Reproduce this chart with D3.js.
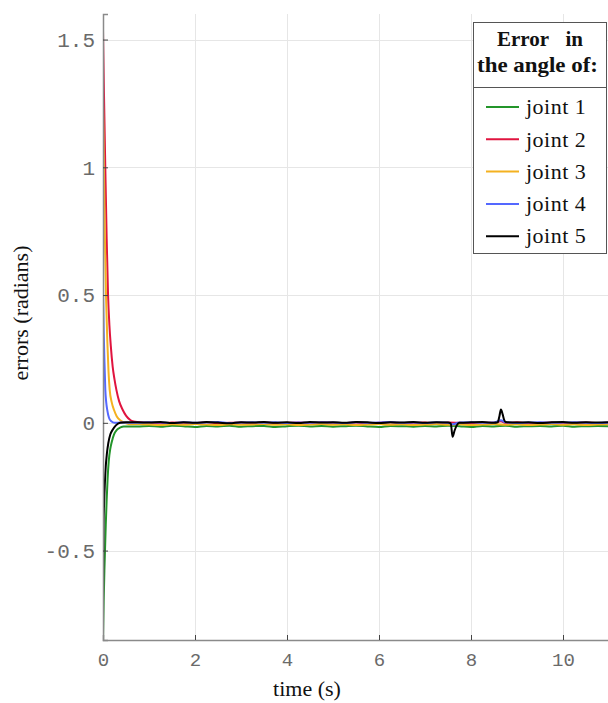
<!DOCTYPE html>
<meta charset="utf-8">
<title>Joint angle errors</title>
<script src="https://cdn.jsdelivr.net/npm/d3@7"></script>
<style>
  body { margin: 0; background: #fff; }
  svg { display: block; }
  .tick-label { font-family: "Liberation Mono", monospace; fill: #6a6a6a; }
  .axis-title { font-family: "Liberation Serif", serif; font-size: 22px; fill: #111; }
  .legend-text { font-family: "Liberation Serif", serif; font-size: 22px; fill: #111; letter-spacing: 0.5px; }
  .legend-head { font-family: "Liberation Serif", serif; font-size: 21px; font-weight: bold; fill: #111; }
</style>
<body>
<svg></svg>
<script>
var width = 608,
    height = 703;

// axis ticks
var xTicks = [0, 2, 4, 6, 8, 10];
var yTicks = [-0.5, 0, 0.5, 1, 1.5];
var yTickLabels = ["-0.5", "0", "0.5", "1", "1.5"];

// series
var jointNames = ["joint 1", "joint 2", "joint 3", "joint 4", "joint 5"];
var jointColors = ["#23952a", "#e0143f", "#f4b120", "#5468ff", "#000000"];

// transient part, [time, error]
var joint1Transient = [[0, -0.85], [0.015, -0.70], [0.03, -0.58], [0.045, -0.49], [0.06, -0.40], [0.08, -0.30],
  [0.1, -0.22], [0.125, -0.15], [0.16, -0.10], [0.19, -0.075], [0.24, -0.045], [0.3, -0.028], [0.38, -0.018], [0.45, -0.014]];
var joint2Transient = [[0, 1.535], [0.02, 1.30], [0.05, 1.00], [0.08, 0.72], [0.11, 0.50], [0.14, 0.38], [0.17, 0.30],
  [0.21, 0.22], [0.25, 0.17], [0.29, 0.13], [0.35, 0.085], [0.43, 0.05], [0.5, 0.028], [0.6, 0.01], [0.7, 0.004]];
var joint3Transient = [[0, 1.253], [0.02, 1.0], [0.04, 0.74], [0.065, 0.5], [0.094, 0.32], [0.12, 0.2], [0.145, 0.13],
  [0.19, 0.08], [0.24, 0.05], [0.3, 0.025], [0.39, 0.008], [0.5, -0.002], [0.6, -0.006]];
var joint4Transient = [[0, 0.525], [0.015, 0.36], [0.03, 0.25], [0.05, 0.13], [0.07, 0.08], [0.093, 0.05],
  [0.13, 0.02], [0.18, 0.006], [0.25, 0.0], [0.4, 0.001]];
var joint5Transient = [[0, -0.70], [0.005, -0.55], [0.012, -0.40], [0.025, -0.31], [0.04, -0.24], [0.06, -0.17],
  [0.085, -0.12], [0.115, -0.08], [0.16, -0.045], [0.21, -0.027], [0.28, -0.01], [0.37, 0.0], [0.5, 0.002]];

// steady part, sampled every 0.25 s
var tSteady = [0.75, 1, 1.25, 1.5, 1.75, 2, 2.25, 2.5, 2.75, 3, 3.25, 3.5, 3.75, 4, 4.25, 4.5, 4.75, 5, 5.25, 5.5, 5.75,
  6, 6.25, 6.5, 6.75, 7, 7.25, 7.5, 7.75, 8, 8.25, 8.5, 8.75, 9, 9.25, 9.5, 9.75, 10, 10.25, 10.5, 10.75, 11];
var joint1Steady = [-0.014, -0.012, -0.015, -0.011, -0.013, -0.016,
  -0.012, -0.014, -0.011, -0.015, -0.013, -0.012,
  -0.016, -0.013, -0.011, -0.014, -0.012, -0.015,
  -0.013, -0.011, -0.014, -0.016, -0.012, -0.013,
  -0.015, -0.012, -0.014, -0.011, -0.013, -0.016,
  -0.012, -0.014, -0.011, -0.015, -0.013, -0.012,
  -0.014, -0.011, -0.015, -0.013, -0.012, -0.014];
var joint2Steady = [0.003, 0.001, -0.002, 0.001, 0.000, -0.001,
  0.002, -0.002, 0.000, 0.001, -0.001, 0.002,
  -0.002, 0.000, 0.001, -0.001, 0.002, 0.000,
  -0.001, 0.001, -0.002, 0.000, 0.002, -0.001,
  0.000, 0.001, -0.002, 0.001, 0.000, -0.001,
  0.001, 0.000, -0.001, 0.002, -0.001, 0.000,
  0.001, -0.002, 0.000, 0.001, -0.001, 0.000];
var joint3Steady = [-0.005, -0.007, -0.009, -0.006, -0.008, -0.005,
  -0.007, -0.009, -0.006, -0.008, -0.007, -0.005,
  -0.008, -0.006, -0.009, -0.007, -0.005, -0.008,
  -0.006, -0.009, -0.007, -0.005, -0.008, -0.006,
  -0.009, -0.007, -0.005, -0.008, -0.006, -0.009,
  -0.007, -0.005, -0.008, -0.006, -0.009, -0.007,
  -0.005, -0.008, -0.006, -0.009, -0.007, -0.006];
var joint4Steady = [0.000, 0.002, 0.001, -0.001, 0.002, 0.000,
  0.001, 0.003, -0.001, 0.001, 0.002, 0.000,
  0.002, -0.001, 0.001, 0.000, 0.002, 0.001,
  -0.001, 0.002, 0.000, 0.001, 0.003, 0.000,
  0.001, -0.001, 0.002, 0.000, 0.001, 0.002,
  0.000, 0.001, 0.002, -0.001, 0.001, 0.002,
  0.000, 0.001, 0.002, 0.000, -0.001, 0.001];
var joint5Steady = [0.002, 0.001, 0.003, -0.001, 0.002, 0.000,
  0.003, 0.001, -0.002, 0.002, 0.001, 0.003,
  0.000, 0.002, -0.001, 0.003, 0.001, 0.002,
  0.000, 0.003, 0.002, -0.001, 0.002, 0.001,
  0.003, 0.000, 0.002, 0.001, 0.000, 0.002,
  0.003, 0.000, 0.003, 0.001, 0.002, -0.001,
  0.002, 0.003, 0.000, 0.002, 0.001, 0.002];

// disturbances around 7.6 s and 8.65 s
var joint2Extra = [[8.65, 0.006]];
var joint4Extra = [[7.6, -0.006], [8.65, 0.010]];
var joint5Extra = [[7.56, -0.002], [7.6, -0.055], [7.64, -0.032], [7.69, -0.01],
  [8.58, 0.002], [8.62, 0.028], [8.65, 0.052], [8.69, 0.032], [8.72, 0.012]];

function build(transient, steady, extra) {
  var pts = transient.concat(tSteady.map(function(t, i) { return [t, steady[i]]; }), extra || []);
  return pts.sort(function(a, b) { return a[0] - b[0]; });
}

var series = [
  build(joint1Transient, joint1Steady),
  build(joint2Transient, joint2Steady, joint2Extra),
  build(joint3Transient, joint3Steady),
  build(joint4Transient, joint4Steady, joint4Extra),
  build(joint5Transient, joint5Steady, joint5Extra)
];

var plotLeft = 103, plotTop = 14, plotBottom = 640;

var x = d3.scaleLinear().domain([0, 12]).range([plotLeft, plotLeft + 12 * 46]);
var y = d3.scaleLinear().domain([-0.85, 1.6]).range([plotBottom, plotTop]);

var svg = d3.select("svg")
    .attr("width", width)
    .attr("height", height);

svg.append("defs").append("clipPath").attr("id", "plot")
  .append("rect")
    .attr("x", plotLeft).attr("y", plotTop)
    .attr("width", width - plotLeft).attr("height", plotBottom - plotTop);

// grid
var grid = svg.append("g").attr("stroke", "#e6e6e6").attr("stroke-width", 1);
grid.selectAll(".gx").data(xTicks.slice(1)).enter().append("line")
    .attr("x1", function(d) { return Math.round(x(d)) + 0.5; })
    .attr("x2", function(d) { return Math.round(x(d)) + 0.5; })
    .attr("y1", plotTop).attr("y2", plotBottom);
grid.selectAll(".gy").data(yTicks).enter().append("line")
    .attr("x1", plotLeft).attr("x2", width)
    .attr("y1", function(d) { return Math.round(y(d)) + 0.5; })
    .attr("y2", function(d) { return Math.round(y(d)) + 0.5; });

// curves
var line = d3.line()
    .x(function(d) { return x(d[0]); })
    .y(function(d) { return y(d[1]); })
    .curve(d3.curveMonotoneX);

svg.append("g").attr("clip-path", "url(#plot)")
  .selectAll("path").data(series).enter().append("path")
    .attr("fill", "none")
    .attr("stroke", function(d, i) { return jointColors[i]; })
    .attr("stroke-width", 2)
    .attr("stroke-linejoin", "round")
    .attr("d", line);

// axes
var xAxis = d3.axisBottom(x).tickValues(xTicks).tickSize(-5).tickPadding(13).tickFormat(d3.format("d"));
var yAxis = d3.axisLeft(y).tickValues(yTicks).tickSize(-5).tickPadding(8)
    .tickFormat(function(d) { return yTickLabels[yTicks.indexOf(d)]; });

var gx = svg.append("g").attr("transform", "translate(0," + plotBottom + ")").call(xAxis);
var gy = svg.append("g").attr("transform", "translate(" + plotLeft + ",0)").call(yAxis);

[gx, gy].forEach(function(g) {
  g.select(".domain").attr("stroke", "#8a8a8a").attr("stroke-width", 1.5);
  g.selectAll(".tick line").attr("stroke", "#444");
  g.selectAll(".tick text").attr("class", "tick-label").attr("fill", null);
});
gx.selectAll(".tick text").style("font-size", "19px");
gy.selectAll(".tick text").style("font-size", "21px");

svg.append("text").attr("class", "axis-title")
    .attr("x", 307).attr("y", 696)
    .attr("text-anchor", "middle")
    .text("time (s)");

svg.append("text").attr("class", "axis-title")
    .attr("transform", "translate(28,313) rotate(-90)")
    .attr("text-anchor", "middle")
    .text("errors (radians)");

// legend
var legend = svg.append("g");
legend.append("rect")
    .attr("x", 473.5).attr("y", 22.5)
    .attr("width", 133).attr("height", 231)
    .attr("fill", "#fff").attr("stroke", "#555").attr("stroke-width", 1);
legend.append("line")
    .attr("x1", 473.5).attr("x2", 606.5)
    .attr("y1", 87.5).attr("y2", 87.5)
    .attr("stroke", "#555");
legend.append("text").attr("class", "legend-head").attr("x", 497).attr("y", 46).text("Error");
legend.append("text").attr("class", "legend-head").attr("x", 583).attr("y", 46).attr("text-anchor", "end").text("in");
legend.append("text").attr("class", "legend-head").attr("x", 477).attr("y", 72)
    .attr("textLength", 121).attr("lengthAdjust", "spacingAndGlyphs")
    .text("the angle of:");

var entries = legend.selectAll(".entry").data(jointNames).enter().append("g")
    .attr("transform", function(d, i) { return "translate(0," + (107 + i * 32.3) + ")"; });
entries.append("line")
    .attr("x1", 486).attr("x2", 519)
    .attr("stroke", function(d, i) { return jointColors[i]; })
    .attr("stroke-width", 2);
entries.append("text").attr("class", "legend-text")
    .attr("x", 526).attr("dy", "0.33em")
    .text(function(d) { return d; });
</script>
</body>
